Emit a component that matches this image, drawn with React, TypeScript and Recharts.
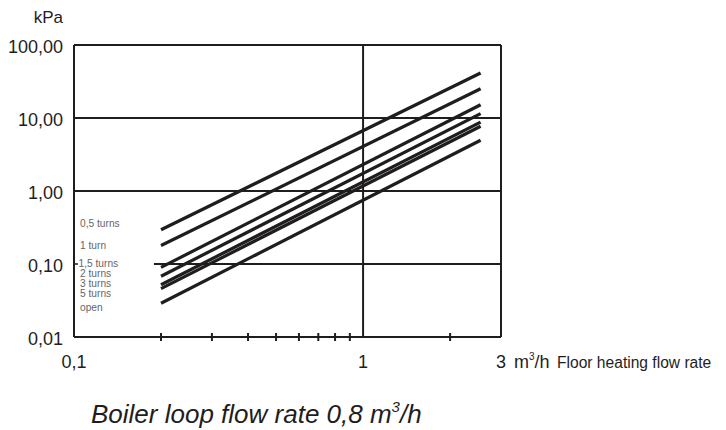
import React from "react";
import { LineChart, Line, XAxis, YAxis, ReferenceLine } from "recharts";

// Flow rate (m³/h) at the two ends of every curve
const flow = [0.2, 2.55];
// Pressure drop (kPa) per valve setting
const turns05 = [0.295, 41.3];
const turns1 = [0.179, 25.2];
const turns15 = [0.09, 15.2];
const turns2 = [0.068, 11.5];
const turns3 = [0.052, 8.8];
const turns5 = [0.046, 7.7];
const openValve = [0.029, 4.95];

const seriesNames = ["0,5 turns", "1 turn", "1,5 turns", "2 turns", "3 turns", "5 turns", "open"];
const seriesValues = [turns05, turns1, turns15, turns2, turns3, turns5, openValve];

const xTicks = [0.1, 0.2, 0.3, 0.4, 0.5, 0.6, 0.7, 0.8, 0.9, 1, 2, 3];
const xLabels: Record<string, string> = { "0.1": "0,1", "1": "1", "3": "3" };
const yTicks = [0.01, 0.1, 1, 10, 100];
const yLabels = ["0,01", "0,10", "1,00", "10,00", "100,00"];

const data = flow.map((x, i) => {
  const row: Record<string, number> = { x };
  seriesValues.forEach((arr, k) => {
    row["s" + k] = arr[i];
  });
  return row;
});

const FONT = "'Liberation Sans', Arial, Helvetica, sans-serif";
const INK = "#1f1d1e";

const XTick = (props: any) => {
  const { x, y, payload } = props;
  const v = payload.value;
  const label = xLabels[String(v)];
  const minor = v !== 0.1 && v !== 1 && v !== 3;
  return (
    <g>
      {minor && <line x1={x} x2={x} y1={y - 4} y2={y + 4} stroke={INK} strokeWidth={2} />}
      {label && (
        <text x={x} y={y + 31} textAnchor="middle" fontFamily={FONT} fontSize={18} fill={INK}>
          {label}
        </text>
      )}
    </g>
  );
};

const YTick = (props: any) => {
  const { x, y, payload } = props;
  const idx = yTicks.indexOf(payload.value);
  return (
    <g>
      {payload.value === 0.1 && <line x1={x} x2={x + 4} y1={y} y2={y} stroke={INK} strokeWidth={1.5} />}
      <text x={x - 11} y={y + 8} textAnchor="end" fontFamily={FONT} fontSize={18} fill={INK}>
        {yLabels[idx]}
      </text>
    </g>
  );
};

const labelBaselines = [226.7, 249.3, 267.3, 277.3, 287.3, 297.3, 310.7];

export default function App() {
  return (
    <div style={{ position: "absolute", left: 0, top: 0, width: 726, height: 430, background: "#fff" }}>
      <LineChart
        width={726}
        height={430}
        data={data}
        margin={{ top: 45, right: 225, left: 0, bottom: 0 }}
      >
        <XAxis
          dataKey="x"
          type="number"
          scale="log"
          domain={[0.1, 3]}
          allowDataOverflow
          ticks={xTicks}
          interval={0}
          height={93}
          axisLine={{ stroke: INK, strokeWidth: 2 }}
          tickLine={false}
          tickSize={0}
          tickMargin={0}
          tick={<XTick />}
        />
        <YAxis
          type="number"
          scale="log"
          domain={[0.01, 100]}
          allowDataOverflow
          ticks={yTicks}
          interval={0}
          width={74}
          axisLine={{ stroke: INK, strokeWidth: 2 }}
          tickLine={false}
          tickSize={0}
          tickMargin={0}
          tick={<YTick />}
        />
        <ReferenceLine y={100} stroke={INK} strokeWidth={2} />
        <ReferenceLine x={3} stroke={INK} strokeWidth={2} />
        <ReferenceLine y={10} stroke={INK} strokeWidth={2} />
        <ReferenceLine y={1} stroke={INK} strokeWidth={2} />
        <ReferenceLine x={1} stroke={INK} strokeWidth={2} />
        <ReferenceLine
          segment={[
            { x: 0.189, y: 0.1 },
            { x: 3, y: 0.1 },
          ]}
          stroke={INK}
          strokeWidth={2}
        />
        {seriesValues.map((_, k) => (
          <Line
            key={k}
            type="linear"
            dataKey={"s" + k}
            name={seriesNames[k]}
            stroke={INK}
            strokeWidth={3.2}
            dot={false}
            activeDot={false}
            isAnimationActive={false}
          />
        ))}
      </LineChart>
      <svg
        width={726}
        height={430}
        style={{ position: "absolute", left: 0, top: 0, pointerEvents: "none" }}
      >
        <text x={63} y={22.7} textAnchor="end" fontFamily={FONT} fontSize={17} fill={INK}>
          kPa
        </text>
        {seriesNames.map((n, k) => (
          <text
            key={n}
            x={k === 2 ? 78.5 : 80}
            y={labelBaselines[k]}
            fontFamily={FONT}
            fontSize={10.2}
            fill="#666"
          >
            {n}
          </text>
        ))}
        <text x={514} y={368} fontFamily={FONT} fontSize={18} fill={INK}>
          m
          <tspan fontSize={10} dy={-8}>3</tspan>
          <tspan dy={8}>/h</tspan>
        </text>
        <text x={557} y={368} fontFamily={FONT} fontSize={15.6} fill={INK}>
          Floor heating flow rate
        </text>
        <text x={91} y={423} fontFamily={FONT} fontStyle="italic" fontSize={26} fill={INK}>
          Boiler loop flow rate 0,8 m
          <tspan fontSize={15} dy={-11}>3</tspan>
          <tspan dy={11}>/h</tspan>
        </text>
      </svg>
    </div>
  );
}
